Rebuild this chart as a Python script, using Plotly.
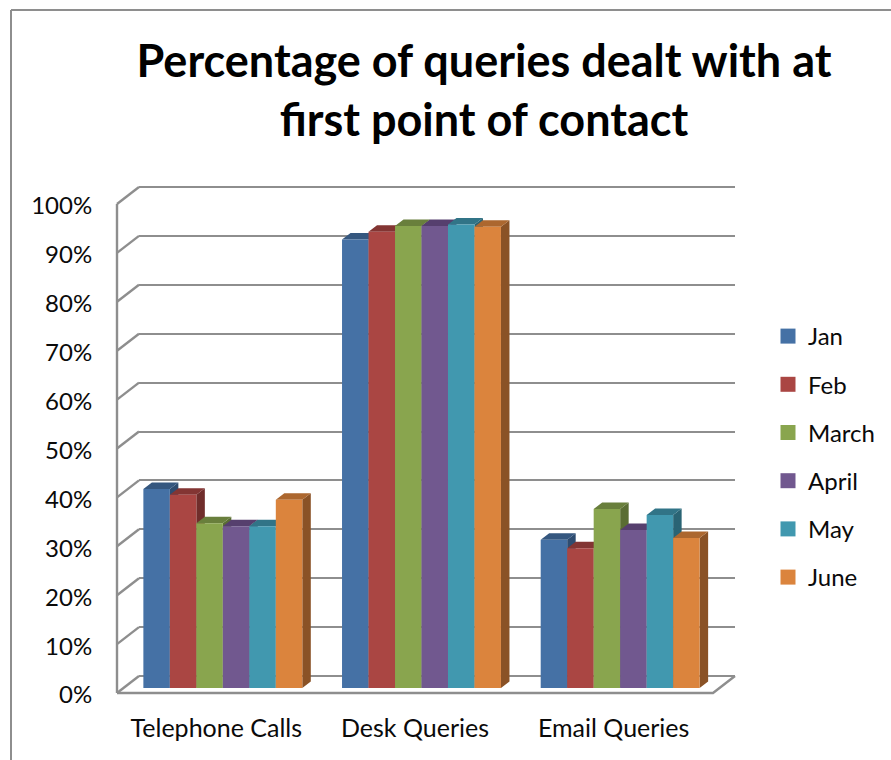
import plotly.graph_objects as go

W, H = 891, 760

categories = ["Telephone Calls", "Desk Queries", "Email Queries"]
months = ["Jan", "Feb", "March", "April", "May", "June"]
jan = [40.7, 91.7, 30.3]
feb = [39.5, 93.3, 28.6]
march = [33.7, 94.5, 36.6]
april = [33.1, 94.5, 32.3]
may = [33.1, 94.8, 35.4]
june = [38.5, 94.3, 30.7]
series = [jan, feb, march, april, may, june]
front_colors = ["#4571A5", "#AA4643", "#89A54E", "#71588F", "#4198AF", "#DB843D"]
top_colors = ["#35577F", "#833533", "#697F3C", "#563F6E", "#317487", "#AC672F"]
side_colors = ["#2E4C70", "#702D2B", "#5A6D33", "#4A385E", "#2A6474", "#8A5226"]
percent_ticks = [0, 10, 20, 30, 40, 50, 60, 70, 80, 90, 100]

GREY = "#8E8E8E"
FONT = "Lato"
TEXT = "#0A0A0A"
CAT_PX = 596 / 3
PCT_PX = 4.89
PAD = 4  # px of slack so edge lines are not clipped


def dom_x(a, b):
    return [a / W, b / W]


def dom_y(bottom, top):
    return [1 - bottom / H, 1 - top / H]


fig = go.Figure()

# Empty trace so that the back-wall subplot and its gridlines are drawn
fig.add_trace(go.Scatter(x=[None], y=[None], xaxis="x", yaxis="y", mode="lines",
                         showlegend=False, hoverinfo="skip"))

# Slanted wall and floor edges, plus front left and bottom axis lines
WALL_DX = 22 / CAT_PX
WALL_DY = 17 / PCT_PX
ex, ey = [-0.5, -0.5, None, -0.5, 2.5, 2.5 + WALL_DX, None], [100, 0, None, 0, 0, WALL_DY, None]
for t in percent_ticks:
    ex += [-0.5, -0.5 + WALL_DX, None]
    ey += [t, t + WALL_DY, None]
fig.add_trace(go.Scatter(x=ex, y=ey, xaxis="x2", yaxis="y2", mode="lines",
                         line=dict(color=GREY, width=2.4), showlegend=False, hoverinfo="skip"))

# Side and top faces of each bar, derived from the values
BAR_W = 0.8 / 6
DX = 8.5 / CAT_PX
DY = 6.5 / PCT_PX
for s, vals in enumerate(series):
    sx, sy, tx, ty = [], [], [], []
    for c, v in enumerate(vals):
        xl = c - 0.4 + s * BAR_W
        xr = xl + BAR_W
        sx += [xr, xr + DX, xr + DX, xr, xr, None]
        sy += [v, v + DY, DY, 0, v, None]
        tx += [xl, xl + DX, xr + DX, xr, xl, None]
        ty += [v, v + DY, v + DY, v, v, None]
    fig.add_trace(go.Scatter(x=sx, y=sy, xaxis="x3", yaxis="y3", mode="lines", fill="toself",
                             fillcolor=side_colors[s], line=dict(width=0), showlegend=False,
                             hoverinfo="skip"))
    fig.add_trace(go.Scatter(x=tx, y=ty, xaxis="x3", yaxis="y3", mode="lines", fill="toself",
                             fillcolor=top_colors[s], line=dict(width=0), showlegend=False,
                             hoverinfo="skip"))

# Front faces
for s, vals in enumerate(series):
    fig.add_trace(go.Bar(x=[0, 1, 2], y=vals, name=months[s], xaxis="x4", yaxis="y4",
                         marker=dict(color=front_colors[s], line=dict(width=0)),
                         showlegend=False))
    fig.add_trace(go.Scatter(x=[None], y=[None], name=months[s], xaxis="x4", yaxis="y4",
                             mode="markers", legendgroup=months[s],
                             marker=dict(symbol="square", size=15, color=front_colors[s])))

hidden = dict(showgrid=False, zeroline=False, showticklabels=False, ticks="", showline=False)

fig.update_layout(
    width=W, height=H,
    margin=dict(l=0, r=0, t=0, b=0, autoexpand=False),
    paper_bgcolor="white", plot_bgcolor="rgba(0,0,0,0)",
    font=dict(family=FONT, color=TEXT, size=24),
    barmode="group", bargap=0.2, bargroupgap=0,
    title=dict(text="<b>Percentage of queries dealt with at<br>first point of contact</b>",
               x=484 / W, xanchor="center", xref="paper",
               y=1 - 77 / H, yanchor="top", yref="paper",
               font=dict(family=FONT, size=45, color="#000000")),
    legend=dict(x=768 / W, xanchor="left", y=1 - 314 / H, yanchor="top",
                font=dict(family=FONT, size=24, color=TEXT),
                tracegroupgap=14, bgcolor="rgba(0,0,0,0)"),
    # Back wall (range padded so the 0% and 100% gridlines are kept)
    xaxis=dict(domain=dom_x(139, 735), range=[0, 1], **hidden),
    yaxis=dict(domain=dom_y(676 + PCT_PX, 187 - PCT_PX), range=[-1, 101], tick0=0, dtick=10,
               showgrid=True, gridcolor=GREY, gridwidth=2.4, zeroline=False,
               showticklabels=False, ticks="", showline=False),
    # Front axes with labels, extended to hold the slanted edges
    xaxis2=dict(domain=dom_x(117 - PAD, 735 + PAD),
                range=[-0.5 - PAD / CAT_PX, 2.5 + WALL_DX + PAD / CAT_PX], anchor="y2",
                tickmode="array", tickvals=[0, 1, 2], ticktext=categories, showgrid=False,
                zeroline=False, showline=False, ticks="outside", ticklen=9,
                tickcolor="rgba(0,0,0,0)", tickfont=dict(family=FONT, size=25, color=TEXT)),
    yaxis2=dict(domain=dom_y(693 + PAD, 187 - PAD),
                range=[-PAD / PCT_PX, 100 + WALL_DY + PAD / PCT_PX], anchor="x2",
                tickmode="array", tickvals=percent_ticks,
                ticktext=[f"{t}%" for t in percent_ticks], showgrid=False, zeroline=False,
                showline=False, ticks="outside", ticklen=15, tickcolor="rgba(0,0,0,0)",
                ticklabelshift=2, tickfont=dict(family=FONT, size=24, color=TEXT)),
    # Bar plane: faces
    xaxis3=dict(domain=dom_x(123.5, 719.5), range=[-0.5, 2.5], anchor="y3", **hidden),
    yaxis3=dict(domain=dom_y(688, 199), range=[0, 100], anchor="x3", **hidden),
    # Bar plane: fronts
    xaxis4=dict(domain=dom_x(123.5, 719.5), range=[-0.5, 2.5], anchor="y4", **hidden),
    yaxis4=dict(domain=dom_y(688, 199), range=[0, 100], anchor="x4", **hidden),
    shapes=[
        dict(type="line", xref="paper", yref="paper", x0=11 / W, x1=11 / W, y0=0, y1=1 - 10 / H,
             line=dict(color=GREY, width=2)),
        dict(type="line", xref="paper", yref="paper", x0=11 / W, x1=1, y0=1 - 10 / H, y1=1 - 10 / H,
             line=dict(color=GREY, width=2)),
    ],
)

fig.write_html("out.html", config={"displayModeBar": False},
               post_script="document.body.style.margin='0';")
